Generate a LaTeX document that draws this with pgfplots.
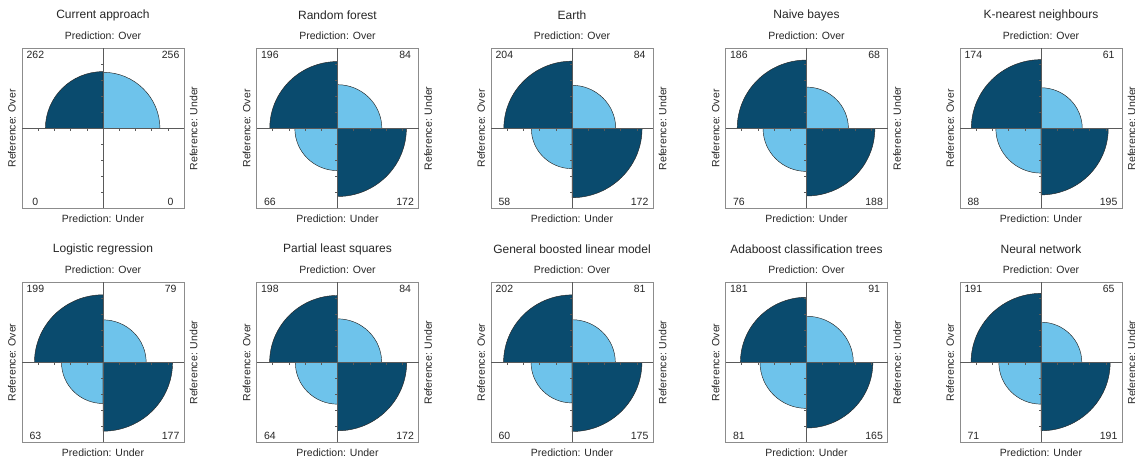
\documentclass[border=0pt]{standalone}
\usepackage{pgfplots}
\pgfplotsset{compat=1.18}
\usepackage{pgfplotstable}
\usepackage{fontspec}
\setmainfont{Liberation Sans}
\definecolor{dk}{HTML}{0A4B6E}
\definecolor{lt}{HTML}{6EC3EB}
\definecolor{txt}{HTML}{262626}
\definecolor{boxc}{HTML}{8C8C8C}
\definecolor{cen}{HTML}{5A5A5A}

% counts: TL = Ref Over/Pred Over, TR = Ref Under/Pred Over, BL = Ref Over/Pred Under, BR = Ref Under/Pred Under
\pgfplotstableread[col sep=comma]{
col,row,TL,TR,BL,BR,title
0,0,262,256,0,0,Current approach
1,0,196,84,66,172,Random forest
2,0,204,84,58,172,Earth
3,0,186,68,76,188,Naive bayes
4,0,174,61,88,195,K-nearest neighbours
0,1,199,79,63,177,Logistic regression
1,1,198,84,64,172,Partial least squares
2,1,202,81,60,175,General boosted linear model
3,1,181,91,81,165,Adaboost classification trees
4,1,191,65,71,191,Neural network
}\ff

\newcommand\getv[2]{\pgfplotstablegetelem{#1}{#2}\of\ff\expandafter\let\csname v#2\endcsname\pgfplotsretval}

\begin{document}
\begin{tikzpicture}
\foreach \i in {0,...,9}{
  \getv{\i}{col}\getv{\i}{row}\getv{\i}{TL}\getv{\i}{TR}\getv{\i}{BL}\getv{\i}{BR}\getv{\i}{title}
  \pgfmathsetmacro\px{22+234.5*\vcol}
  \pgfmathsetmacro\py{253.5-234*\vrow}
  \pgfmathsetmacro\rTL{sqrt(\vTL/max(\vTL+\vTR,1))}
  \pgfmathsetmacro\rTR{sqrt(\vTR/max(\vTL+\vTR,1))}
  \pgfmathsetmacro\rBL{sqrt(\vBL/max(\vBL+\vBR,1))}
  \pgfmathsetmacro\rBR{sqrt(\vBR/max(\vBL+\vBR,1))}
  \begin{axis}[
    at={(\px pt,\py pt)}, anchor=south west,
    scale only axis, width=162pt, height=160pt,
    xmin=-1, xmax=1, ymin=-1, ymax=1,
    xtick=\empty, ytick=\empty, clip=false,
    axis line style={draw=boxc, line width=0.6pt},
  ]
    \ifdim\rTL pt>0pt
      \filldraw[fill=dk, draw=black!85, line width=0.45pt] (axis cs:0,0) -- (axis cs:-\rTL,0) arc[start angle=180, end angle=90, x radius=\rTL*81pt, y radius=\rTL*80pt] -- cycle;
    \fi
    \ifdim\rTR pt>0pt
      \filldraw[fill=lt, draw=black!85, line width=0.45pt] (axis cs:0,0) -- (axis cs:\rTR,0) arc[start angle=0, end angle=90, x radius=\rTR*81pt, y radius=\rTR*80pt] -- cycle;
    \fi
    \ifdim\rBL pt>0pt
      \filldraw[fill=lt, draw=black!85, line width=0.45pt] (axis cs:0,0) -- (axis cs:-\rBL,0) arc[start angle=180, end angle=270, x radius=\rBL*81pt, y radius=\rBL*80pt] -- cycle;
    \fi
    \ifdim\rBR pt>0pt
      \filldraw[fill=dk, draw=black!85, line width=0.45pt] (axis cs:0,0) -- (axis cs:\rBR,0) arc[start angle=0, end angle=-90, x radius=\rBR*81pt, y radius=\rBR*80pt] -- cycle;
    \fi
    \draw[cen, line width=0.6pt] (axis cs:-1,0) -- (axis cs:1,0);
    \draw[cen, line width=0.6pt] (axis cs:0,-1) -- (axis cs:0,1);
    \pgfplotsinvokeforeach{-0.8,-0.6,-0.4,-0.2,0.2,0.4,0.6,0.8}{
      \draw[cen, line width=0.5pt] (axis cs:##1,0) -- ++(0pt,-2.5pt);
      \draw[cen, line width=0.5pt] (axis cs:0,##1) -- ++(-2.5pt,0pt);
    }
    \node[txt, font=\fontsize{10.5}{12}\selectfont] at (axis cs:-0.835,0.915) {\vTL};
    \node[txt, font=\fontsize{10.5}{12}\selectfont] at (axis cs:0.835,0.915) {\vTR};
    \node[txt, font=\fontsize{10.5}{12}\selectfont] at (axis cs:-0.835,-0.915) {\vBL};
    \node[txt, font=\fontsize{10.5}{12}\selectfont] at (axis cs:0.835,-0.915) {\vBR};
    \node[txt, font=\fontsize{12}{14}\selectfont, yshift=33pt] at (rel axis cs:0.5,1) {\vtitle};
    \node[txt, font=\fontsize{10.5}{12}\selectfont, yshift=12.5pt] at (rel axis cs:0.5,1) {Prediction: Over};
    \node[txt, font=\fontsize{10.5}{12}\selectfont, yshift=-10.5pt] at (rel axis cs:0.5,0) {Prediction: Under};
    \node[txt, font=\fontsize{10.5}{12}\selectfont, xshift=-10pt, rotate=90] at (rel axis cs:0,0.5) {Reference: Over};
    \node[txt, font=\fontsize{10.5}{12}\selectfont, xshift=9.5pt, rotate=90] at (rel axis cs:1,0.5) {Reference: Under};
  \end{axis}
}
\pgfresetboundingbox
\useasboundingbox (0pt,0pt) rectangle (1135pt,462pt);
\end{tikzpicture}
\end{document}
